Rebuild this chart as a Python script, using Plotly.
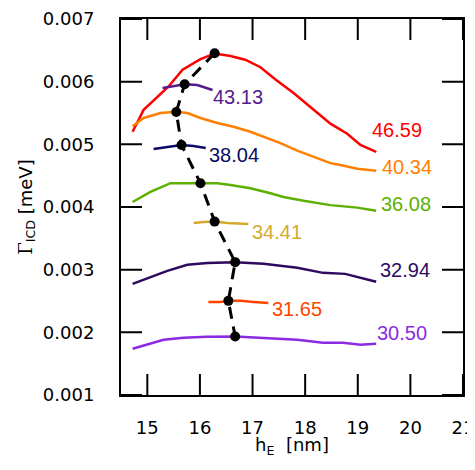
import plotly.graph_objects as go

# ---- data ----
labels = ["46.59", "43.13", "40.34", "38.04", "36.08", "34.41", "32.94", "31.65", "30.50"]
colors = ["#FF0000", "#551A8B", "#FF7F00", "#0A0A64", "#5DB000", "#D4AA2A", "#2E0A5E", "#FF4500", "#8A2BE2"]

x_4659 = [14.72, 14.93, 15.40, 15.67, 16.01, 16.28, 16.58, 16.86, 17.15, 17.43, 17.78, 18.10, 18.48, 18.80, 19.05, 19.35]
y_4659 = [0.00520, 0.00555, 0.00592, 0.00619, 0.00636, 0.00645, 0.00641, 0.00635, 0.00623, 0.00604, 0.00582, 0.00560, 0.00533, 0.00517, 0.00499, 0.00488]

x_4313 = [15.29, 15.50, 15.71, 15.95, 16.24]
y_4313 = [0.005900, 0.005931, 0.005959, 0.005947, 0.005868]

x_4034 = [14.72, 14.93, 15.25, 15.55, 15.76, 16.01, 16.33, 16.64, 16.96, 17.21, 17.53, 17.85, 18.10, 18.48, 18.67, 18.99, 19.35]
y_4034 = [0.00529, 0.00542, 0.00550, 0.00552, 0.00550, 0.00542, 0.00534, 0.00528, 0.00520, 0.00512, 0.00502, 0.00490, 0.00482, 0.00470, 0.00467, 0.00461, 0.00458]

x_3804 = [15.12, 15.38, 15.65, 15.88, 16.11]
y_3804 = [0.004927, 0.004959, 0.004990, 0.004974, 0.004943]

x_3608 = [14.72, 15.06, 15.44, 16.01, 16.33, 16.58, 16.96, 17.34, 17.59, 17.97, 18.48, 18.99, 19.35]
y_3608 = [0.00408, 0.00424, 0.00438, 0.00438, 0.00438, 0.00435, 0.00430, 0.00422, 0.00416, 0.00410, 0.00403, 0.00399, 0.00394]

x_3441 = [15.88, 16.07, 16.28, 16.52, 16.92]
y_3441 = [0.003746, 0.003762, 0.003767, 0.003746, 0.003730]

x_3294 = [14.72, 15.06, 15.38, 15.76, 16.14, 16.67, 17.21, 17.85, 18.34, 18.76, 18.99, 19.35]
y_3294 = [0.002774, 0.002885, 0.002981, 0.003077, 0.003108, 0.003120, 0.003093, 0.003029, 0.002949, 0.002933, 0.002885, 0.002806]

x_3165 = [16.16, 16.39, 16.54, 16.77, 17.02, 17.30]
y_3165 = [0.002486, 0.002486, 0.002502, 0.002502, 0.002486, 0.002470]

x_3050 = [14.72, 15.06, 15.31, 15.69, 16.14, 16.67, 17.21, 17.85, 18.34, 18.72, 19.05, 19.35]
y_3050 = [0.001737, 0.001817, 0.001880, 0.001912, 0.001928, 0.001933, 0.001912, 0.001880, 0.001833, 0.001833, 0.001801, 0.001817]

peak_x = [16.28, 15.71, 15.55, 15.65, 16.01, 16.28, 16.67, 16.54, 16.67]
peak_y = [0.006453, 0.005959, 0.005517, 0.004990, 0.004380, 0.003767, 0.003120, 0.002502, 0.001933]

xs = [x_4659, x_4313, x_4034, x_3804, x_3608, x_3441, x_3294, x_3165, x_3050]
ys = [y_4659, y_4313, y_4034, y_3804, y_3608, y_3441, y_3294, y_3165, y_3050]

label_x = [19.75, 16.73, 19.94, 16.64, 19.92, 17.46, 19.90, 17.85, 19.84]
label_y = [0.005230, 0.005756, 0.004640, 0.004831, 0.004050, 0.003603, 0.003000, 0.002375, 0.001992]

x_ticks = [15, 16, 17, 18, 19, 20, 21]
y_ticks = [0.001, 0.002, 0.003, 0.004, 0.005, 0.006, 0.007]
x_range = [14.5, 21]
y_range = [0.001, 0.007]

fig = go.Figure()
for xv, yv, c in zip(xs, ys, colors):
    fig.add_trace(go.Scatter(x=xv, y=yv, mode="lines", line=dict(color=c, width=2.5), showlegend=False, hoverinfo="skip"))

fig.add_trace(go.Scatter(x=peak_x, y=peak_y, mode="lines+markers",
                         line=dict(color="black", width=3, dash="12px,8px"),
                         marker=dict(color="black", size=10), showlegend=False))

# inward tick marks on all four sides: line markers at the tick values, clipped to the plot area
tick_marker_v = dict(symbol="line-ns-open", size=30, color="black", line=dict(color="black", width=2))
tick_marker_h = dict(symbol="line-ew-open", size=30, color="black", line=dict(color="black", width=2))
for edge in y_range:
    fig.add_trace(go.Scatter(x=x_ticks, y=[edge] * len(x_ticks), mode="markers", marker=tick_marker_v,
                             cliponaxis=True, showlegend=False, hoverinfo="skip"))
for edge in x_range:
    fig.add_trace(go.Scatter(x=[edge] * len(y_ticks), y=y_ticks, mode="markers", marker=tick_marker_h,
                             cliponaxis=True, showlegend=False, hoverinfo="skip"))

for t, lx, ly, c in zip(labels, label_x, label_y, colors):
    fig.add_annotation(x=lx, y=ly, text=t, showarrow=False, xanchor="center", yanchor="middle",
                       font=dict(family="Liberation Sans, Arial", size=20, color=c))

tickfont = dict(family="DejaVu Sans", size=18, color="black")
main_common = dict(showline=True, linecolor="black", linewidth=2, mirror=True,
                   ticks="outside", tickwidth=2, tickcolor="rgba(0,0,0,0)",
                   showgrid=False, zeroline=False, automargin=False, tickfont=tickfont)

fig.update_layout(
    template="none", width=467, height=450, margin=dict(l=113, r=12, t=11, b=63),
    plot_bgcolor="white", paper_bgcolor="white",
    xaxis=dict(range=x_range, tickmode="array", tickvals=x_ticks, ticktext=[str(v) for v in x_ticks], ticklen=15,
               title=dict(text="h<sub>E</sub>\u00a0 [nm]", font=dict(family="DejaVu Sans", size=18, color="black"), standoff=15),
               **main_common),
    yaxis=dict(range=y_range, tickmode="array", tickvals=y_ticks, ticktext=["%.3f" % v for v in y_ticks], ticklen=21,
               title=dict(text="<span style='font-family:DejaVu Serif'>Γ</span><sub>ICD</sub> [meV]",
                          font=dict(family="DejaVu Sans", size=18, color="black"), standoff=6),
               **main_common),
)

fig.write_html("out.html")
